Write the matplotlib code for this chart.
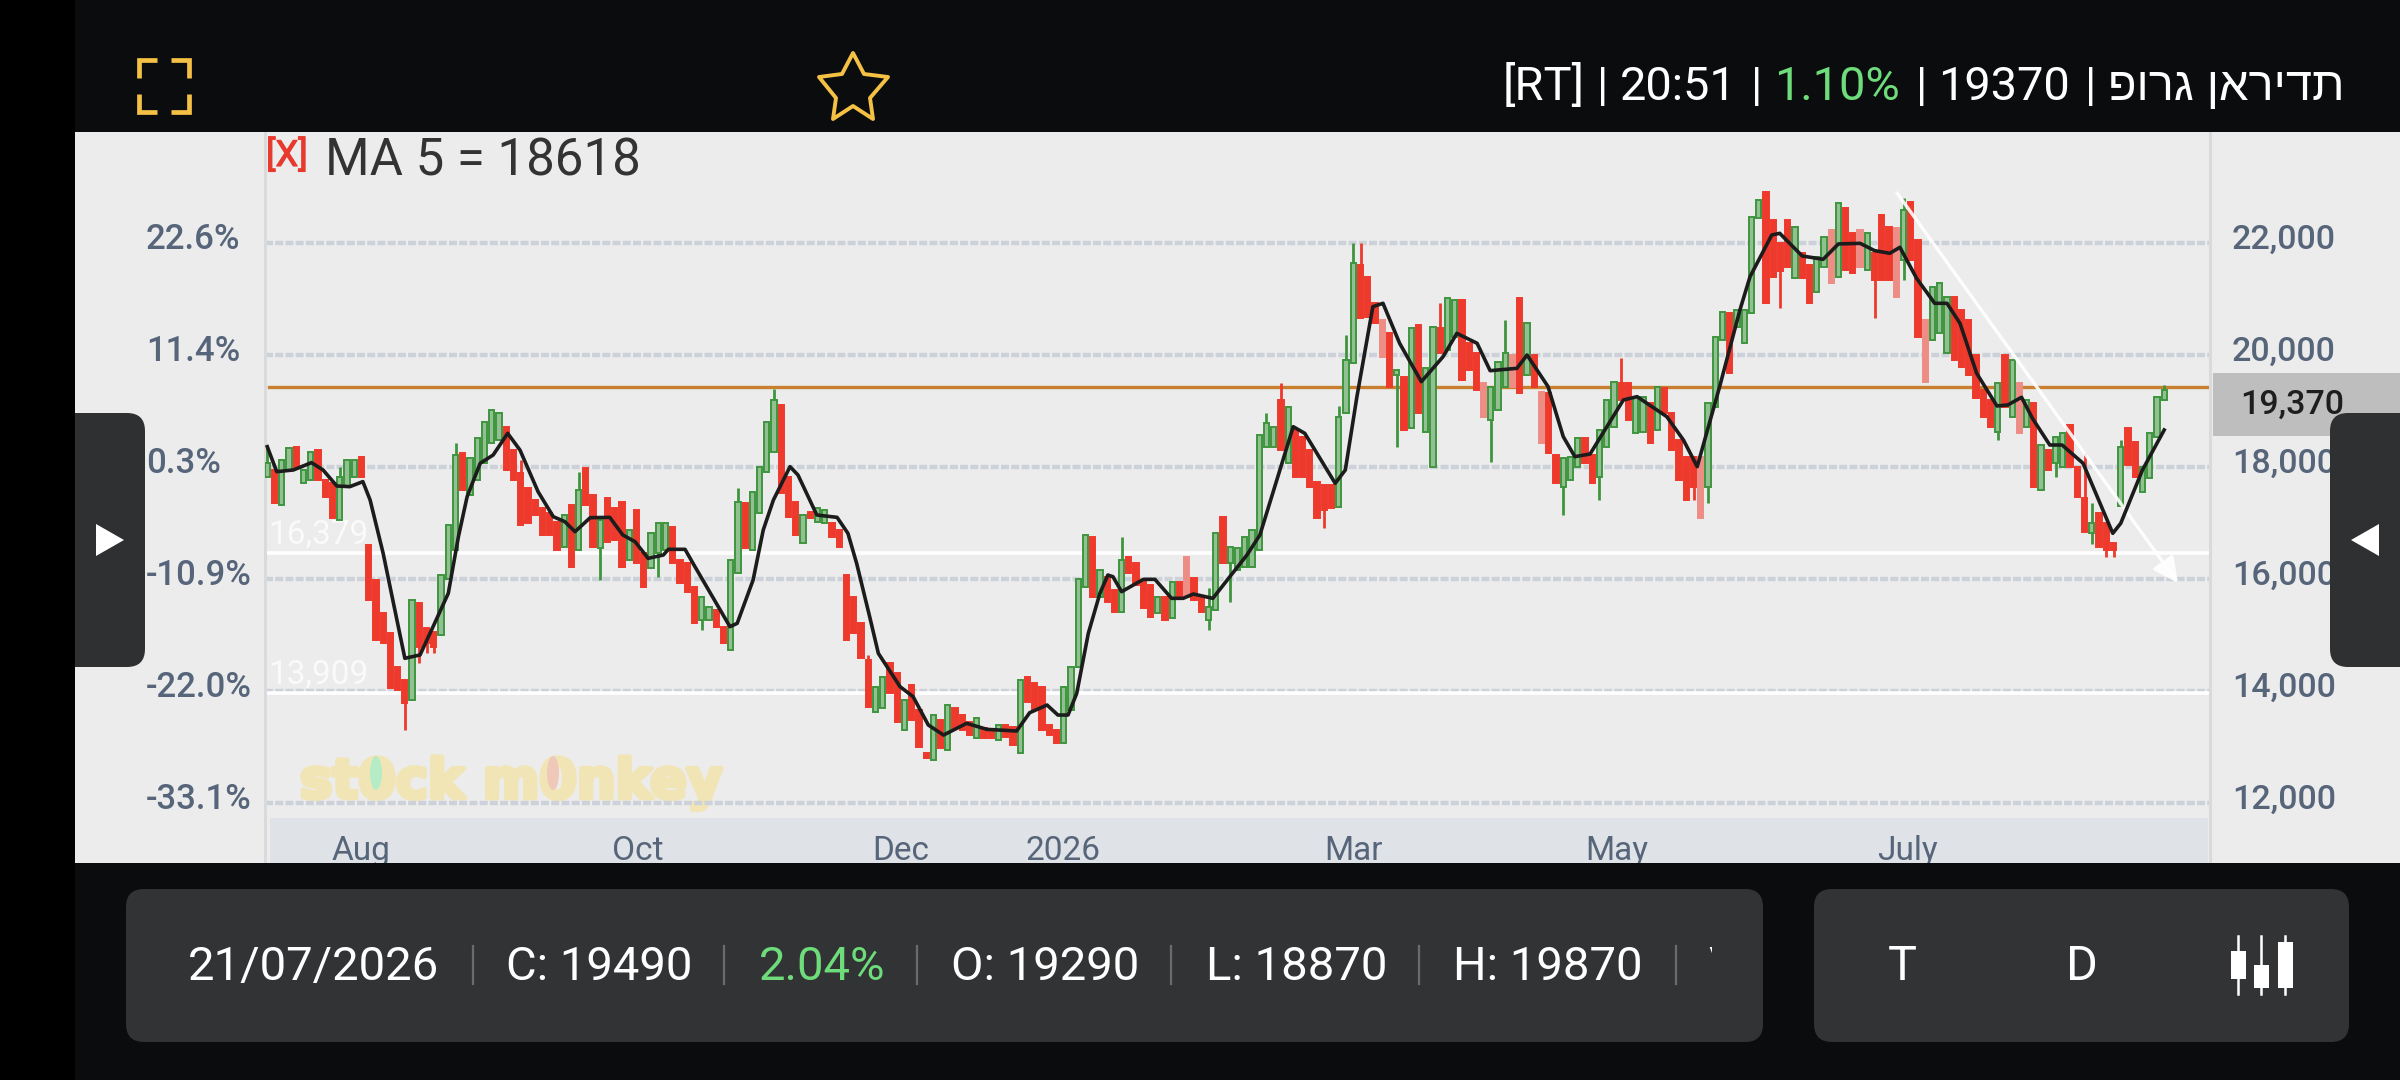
import matplotlib
matplotlib.use("Agg")
import matplotlib.pyplot as plt
import matplotlib.patheffects as pe
from matplotlib.patches import FancyBboxPatch, Rectangle, Polygon, Ellipse
from matplotlib.transforms import ScaledTranslation

plt.rcParams['font.family'] = ['Roboto', 'DejaVu Sans']

# ---------- data ----------
opens = [
 17828,17947,17322,17947,18363,17709,17768,18304,17768,17709,
 17054,17650,17828,18185,16600,15983,15388,15030,14435,14197,
 13840,15566,15120,15060,15000,16000,16518,18244,17500,17768,
 18066,18423,18482,18720,18300,17900,17620,17410,17262,17170,
 17020,16577,17320,16518,17976,17500,16547,17440,17262,17381,
 16339,17232,16458,16190,16458,16518,16934,16339,16280,15863,
 15268,15268,15446,15149,14732,16100,17351,16518,17172,17916,
 18273,19107,17827,17380,16637,17202,17023,16994,16994,16875,
 16071,15684,15208,14553,13631,13690,14494,14315,13303,14107,
 13660,12887,12768,13482,12946,13690,13571,13452,13154,13333,
 13273,13125,13392,13362,12887,14256,14137,14077,13392,13303,
 13065,13660,14434,15863,16755,15684,16041,15803,15416,16398,
 16279,15981,15892,15387,15684,15298,15952,16398,16012,15654,
 15268,15446,17113,16279,16160,16220,16220,16518,18363,18363,
 19197,18066,18660,18542,18304,17738,17678,17678,17292,18958,
 19851,21607,21399,20923,20625,20387,19648,19613,18691,20535,
 18631,18006,20476,20090,20328,20982,20209,20030,19494,18839,
 19018,19435,20000,21012,19643,20000,19345,19316,18214,17649,
 17768,18006,18512,18214,17828,18363,18720,19494,19494,18601,
 18631,19137,18661,19405,18958,18482,18185,18185,18185,17649,
 19078,20268,20744,20506,20209,20744,22441,22917,22411,22000,
 22411,21370,21816,21608,21132,21578,22233,21399,22620,22173,
 22233,21518,21816,22500,22292,22262,21700,22738,22054,20625,
 20268,20387,20030,21042,20804,20625,20000,19376,19197,18630,
 20000,18899,19495,18721,19138,17590,18304,18066,18006,18751,
 18006,17440,16820,17170,16995,16637,17300,18691,18453,17560,
 17798,18542,19197,
]
closes = [
 18066,17352,18126,18334,17980,17947,18274,17768,17470,17084,
 17828,18126,18126,17828,15626,14911,14852,14050,14018,13780,
 15626,14792,14852,14792,16072,16965,18215,17590,18155,18512,
 18810,19018,18959,17946,17768,16964,16994,17143,16786,16786,
 16518,17143,16220,17589,17321,16577,17053,16666,16696,16220,
 16875,16280,15863,16815,16994,16994,16280,15923,15774,15208,
 15684,15506,15149,14851,16339,17381,16547,17559,18006,18809,
 19200,17529,17113,16785,17142,17083,17261,17232,16756,16577,
 14910,15030,14583,13720,14077,14256,13958,13452,13839,13482,
 13006,12797,13571,12976,13750,13333,13303,13214,13512,13154,
 13154,13392,13184,13035,14196,13809,13660,13303,13214,13065,
 14077,14434,16000,16785,15684,16160,15595,15416,16339,16101,
 15892,15476,15327,15684,15268,15952,15684,15684,15625,15416,
 15506,16815,16279,16577,16547,16755,16875,18572,18780,18720,
 18304,19078,17828,17828,17649,17084,17232,17262,18899,19911,
 21637,20655,20685,20565,19970,19434,19732,18661,20476,18958,
 19762,20506,20030,21012,20982,19554,19732,19375,18899,19435,
 19881,20030,19435,19316,20566,19435,18423,18244,17708,18155,
 18185,18512,18066,17708,18660,19197,19524,19197,18839,19256,
 19256,18423,19435,18959,18304,17768,17411,17649,17084,19137,
 20328,20774,19673,20804,20804,22470,22768,20923,21399,21500,
 21578,22292,21370,20923,21756,22114,21280,22709,21518,21459,
 21578,22173,21340,21340,21340,21042,22590,21697,20328,19524,
 21220,21280,21042,19911,19792,19643,19227,18899,18721,19495,
 19078,19910,18602,19197,17650,18393,17947,18542,18602,18006,
 17471,16846,17000,16580,16520,16520,18364,18036,17828,18006,
 18602,19257,19376,
]
# wicks that reach beyond the body; other bars show none
high_wicks = {0:18363, 10:18000, 26:18423, 35:18125, 43:17916, 65:17618, 70:19400,
              83:14640, 118:16755, 130:15833, 138:18958, 140:19494, 148:19083,
              149:20357, 150:22000, 151:21994, 156:19740, 162:20923, 171:20625,
              187:19941, 226:22800, 251:18245, 252:17350, 256:18480, 262:19465}
low_wicks = {19:13304, 21:14495, 22:14673, 23:14673, 46:15982, 54:16041, 60:15089,
             130:15089, 133:15595, 146:16905, 156:18363, 169:18095, 179:17143,
             184:17411, 197:17411, 199:17352, 209:20834, 222:20655, 226:21340,
             239:18483, 247:17828, 252:16630, 254:16400, 255:16400}
# down bars that look washed out in the picture
faded_down = [127, 154, 168, 172, 176, 198, 216, 220, 225, 229, 242]

ma_bar = [0,1.3,3.6,6.1,7.7,9.6,11.4,13.2,14.2,16,19,21.1,22.9,25,26.4,27.6,29.4,31.2,
          33.2,34.9,37.4,39.5,41.1,42.5,44.6,47.3,49.1,50.8,52.6,54.7,55.4,57.7,58.8,
          63.9,64.9,67.1,68.5,69.9,72.2,73.3,75.9,78.7,80.2,81.4,83.2,84.4,87.4,89.2,
          91.3,93.4,96.6,99.4,103.5,105.3,107.7,109.2,110.6,111.8,113.4,115,116.1,116.8,
          118,121,122.6,124.9,126.5,127.9,130.6,135.3,137.1,141.7,143.3,147.5,148.9,
          150.5,152.7,154.1,156.4,159.4,162.4,164.3,167.1,168.9,172.6,174,176.9,179,
          180.6,182.7,187.3,189.2,193.3,195.6,197.5,200.6,203.4,204.8,207.8,208.9,212,
          214.9,217,220,222,224.1,225.5,227.8,230.3,232,233.8,236.1,238.9,240.4,242.3,
          243.8,246.2,247.9,250.8,254.9,256,259,262]
ma_value = [18363,17917,17947,18078,17947,17661,17649,17739,17411,16459,14584,14644,15150,
            15745,16757,17471,18066,18215,18601,18303,17559,17113,17024,16845,17095,17101,
            16786,16666,16369,16428,16530,16530,16280,15149,15208,15982,16875,17410,18006,
            17857,17143,17101,16815,16280,15327,14672,14077,13899,13393,13214,13423,13315,
            13286,13613,13750,13571,13571,13958,15030,15744,16071,16041,15774,15994,15994,
            15655,15655,15732,15655,16428,16786,18720,18601,17709,17947,19256,20863,20923,
            20209,19524,19970,20387,20209,19720,19762,20000,19435,18542,18185,18232,19197,
            19256,18899,18482,18006,19435,20804,21399,22143,22173,21768,21709,21983,21994,
            21864,21816,21923,21370,20923,20923,20566,19673,19090,19108,19245,18870,18393,
            18393,18066,16816,16995,17947,18661]

price_ticks = [12000, 14000, 16000, 18000, 20000, 22000]
price_labels = ['12,000', '14,000', '16,000', '18,000', '20,000', '22,000']
pct_labels = ['-33.1%', '-22.0%', '-10.9%', '0.3%', '11.4%', '22.6%']
month_bars = [13, 51.2, 87.5, 109.9, 150, 186.4, 226.6]
month_labels = ['Aug', 'Oct', 'Dec', '2026', 'Mar', 'May', 'July']
level_orange = 19420
level_white = [16460, 13960]
level_white_labels = ['16,379', '13,909']
trend_start = (225.1, 22893)
trend_end = (263.9, 15929)
company = 'תדיראן גרופ'

# ---------- layout ----------
W, H = 2400, 1080
BG = '#0a0c0e'
SLATE = '#566579'
GOLD = '#f4c145'
PANEL = '#323335'
GREEN_TXT = '#6fdc7c'
UP_EDGE, UP_FACE = '#3f953f', '#93c093'
DOWN, DOWN_FADED = '#ee3a2c', '#ee8d85'

fig = plt.figure(figsize=(24, 10.8), dpi=100, facecolor=BG)

def px_axes(zorder):
    a = fig.add_axes([0, 0, 1, 1], zorder=zorder)
    a.set_xlim(0, W)
    a.set_ylim(H, 0)
    a.axis('off')
    return a

def rrect(a, x, y, w, h, r, color, z=1):
    a.add_patch(FancyBboxPatch((x + r, y + r), w - 2 * r, h - 2 * r,
                               boxstyle=f'round,pad={r},rounding_size={r}',
                               fc=color, ec='none', zorder=z))

# background layer
bg = px_axes(0)
bg.add_patch(Rectangle((75, 132), W - 75, 731, fc='#ececec', ec='none'))
bg.add_patch(Rectangle((270, 818), 1938, 45, fc='#dfe2e7', ec='none'))
bg.add_patch(Rectangle((2213, 373), 187, 63, fc='#bebebe', ec='none'))
bg.text(2240, 405, '19,370', fontsize=24.5, fontweight='medium', color='#1e1e1e',
        va='center', ha='left')
wm = bg.text(300, 798, 'st0ck m0nkey', fontsize=39, fontweight='bold', color='#f2e5b5',
             family='DejaVu Sans', va='baseline', ha='left')
wm.set_path_effects([pe.withStroke(linewidth=3.5, foreground='#f2e5b5')])
bg.add_patch(Ellipse((376, 773), 12, 34, fc='#b5ecc5', ec='none', zorder=3))
bg.add_patch(Ellipse((553, 773), 12, 34, fc='#efc8b8', ec='none', zorder=3))

# chart axes
L, R, T, B = 265, 2210, 132, 863
ax = fig.add_axes([L / W, 1 - B / H, (R - L) / W, (B - T) / H], zorder=1)
ax.patch.set_visible(False)
x0, pitch = 267.3, 7.24
ax.set_xlim((L - x0) / pitch, (R - x0) / pitch)
ax.set_ylim(10929, 23982)
for s in ('top', 'bottom'):
    ax.spines[s].set_visible(False)
for s in ('left', 'right'):
    ax.spines[s].set_color('#dadada')
    ax.spines[s].set_linewidth(2.2)
ax.set_axisbelow(True)
ax.yaxis.grid(True, color='#cdd2da', lw=3.2, ls=(0, (1.8, 0.5)))
ax.set_yticks(price_ticks, pct_labels)
ax.set_xticks(month_bars, month_labels)
ax.tick_params(axis='y', length=0, pad=(L - 146) * 0.72, labelsize=25, labelcolor=SLATE)
ax.tick_params(axis='x', length=0, pad=-2.2, labelsize=24, labelcolor=SLATE)
up_shift = ScaledTranslation(0, 7 / 100, fig.dpi_scale_trans)
for lab in ax.get_yticklabels():
    lab.set_ha('left')
    lab.set_fontweight('medium')
    lab.set_transform(lab.get_transform() + up_shift)
for lab in ax.get_xticklabels():
    lab.set_va('baseline')

ax2 = ax.twinx()
ax2.patch.set_visible(False)
ax2.set_ylim(ax.get_ylim())
ax2.set_yticks(price_ticks, price_labels)
ax2.tick_params(axis='y', length=0, pad=22 * 0.72, labelsize=24.5, labelcolor=SLATE)
for s in ax2.spines.values():
    s.set_visible(False)
for lab in ax2.get_yticklabels():
    lab.set_fontweight('medium')
    lab.set_transform(lab.get_transform() + up_shift)

# levels
ax.axhline(level_orange, xmin=0.002, xmax=0.9995, color='#c87f30', lw=2.4, zorder=2)
for lv, txt in zip(level_white, level_white_labels):
    ax.axhline(lv, color='white', lw=2.6, zorder=2)
    ax.text(0.1, lv + 45, txt, fontsize=24, color='white', alpha=0.75,
            va='bottom', ha='left', zorder=2)

# candles
for i, (o, c) in enumerate(zip(opens, closes)):
    up = c >= o
    edge = UP_EDGE if up else DOWN
    face = UP_FACE if up else DOWN
    if i in faded_down:
        edge = face = DOWN_FADED
    hi = high_wicks.get(i, max(o, c))
    lo = low_wicks.get(i, min(o, c))
    ax.vlines(i, lo, hi, color=edge, lw=2.0, zorder=3)
    ax.bar(i, abs(c - o), bottom=min(o, c), width=0.72,
           facecolor=face, edgecolor=edge, lw=1.4, zorder=3)

# trend arrow and MA
ax.annotate('', xy=trend_end, xytext=trend_start, zorder=4,
            arrowprops=dict(arrowstyle='-|>', color='white', lw=2.4, alpha=0.9,
                            mutation_scale=38, shrinkA=0, shrinkB=0))
ax.plot(ma_bar, ma_value, color='#1c1c1c', lw=2.6, zorder=5, solid_joinstyle='round')

# legend text
bg_top = px_axes(2)
bg_top.text(266, 166, '[X]', fontsize=26, color='#e8392e', va='baseline',
            path_effects=[pe.withStroke(linewidth=0.8, foreground='#e8392e')])
bg_top.text(325, 175, 'MA 5 = 18618', fontsize=36.7, color='#333333', va='baseline')

# chrome on top
ui = px_axes(3)
ui.add_patch(Rectangle((0, 0), W, 132, fc=BG, ec='none'))
ui.add_patch(Rectangle((0, 863), W, H - 863, fc=BG, ec='none'))
rrect(ui, 40, 413, 105, 254, 18, '#2f3032')
rrect(ui, 2330, 413, 120, 254, 18, '#2f3032')
ui.add_patch(Polygon([(96, 524), (124, 540), (96, 556)], fc='white', ec='none', zorder=2))
ui.add_patch(Polygon([(2379, 524), (2351, 540), (2379, 556)], fc='white', ec='none', zorder=2))
ui.add_patch(Rectangle((0, 0), 75, H, fc='black', ec='none', zorder=3))

# header
FS = 33.8
def head(x, s, color='white', ha='left', **kw):
    ui.text(x, 100, s, fontsize=FS, color=color, ha=ha, va='baseline', **kw)
head(1503, '[RT]')
head(1597, '|')
head(1620, '20:51')
head(1751, '|')
head(1774, '1.10%', GREEN_TXT)
head(1916, '|')
head(1938, '19370')
head(2085, '|')
# matplotlib lays glyphs out left to right, so the Hebrew is handed over in visual order
head(2344, company[::-1], ha='right', family=['Liberation Sans'])

# fullscreen icon
for xs, ys in [([139, 139, 157], [78, 60, 60]), ([171, 189, 189], [60, 60, 78]),
               ([139, 139, 157], [94, 112, 112]), ([171, 189, 189], [112, 112, 94])]:
    ui.plot(xs, ys, color=GOLD, lw=3.4, solid_joinstyle='miter', solid_capstyle='butt')
# star icon
ui.add_patch(Polygon([(853, 53), (864, 74), (888, 77), (870, 98), (873, 119), (853, 106),
                      (833, 119), (836, 98), (819, 77), (842, 74)],
                     closed=True, fc='none', ec=GOLD, lw=2.8, joinstyle='round'))

# bottom panels
rrect(ui, 126, 889, 1637, 153, 18, PANEL)
rrect(ui, 1814, 889, 535, 153, 18, PANEL)
def foot(x, s, color='white', size=34, ha='left'):
    return ui.text(x, 980, s, fontsize=size, color=color, ha=ha, va='baseline', zorder=2)
foot(188, '21/07/2026')
foot(506, 'C: 19490')
foot(759, '2.04%', GREEN_TXT)
foot(951, 'O: 19290')
foot(1206, 'L: 18870')
foot(1453, 'H: 19870')
t = foot(1708, 'V')
t.set_clip_on(True)
t.set_clip_path(Rectangle((1690, 889), 22, 153, transform=ui.transData))
for xs in [473, 724, 917, 1171, 1419, 1676]:
    ui.plot([xs, xs], [946, 984], color='#6a6b6d', lw=1.6, zorder=2)
foot(1902, 'T', size=35, ha='center')
foot(2082, 'D', size=35, ha='center')
for xc, y1, y2 in [(2238, 951, 979), (2261, 965, 988), (2285, 942, 988)]:
    ui.plot([xc, xc], [936, 994], color='white', lw=1.8, zorder=2)
    ui.add_patch(Rectangle((xc - 7.5, y1), 15, y2 - y1, fc='white', ec='none', zorder=2))
ui.set_xlim(0, W)
ui.set_ylim(H, 0)

fig.savefig('out.png', dpi=100, facecolor=BG)
